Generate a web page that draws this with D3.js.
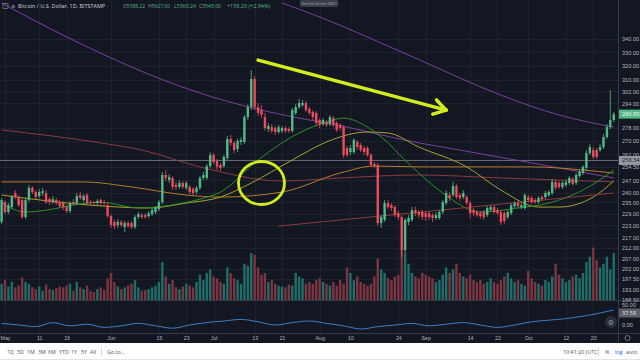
<!DOCTYPE html>
<html><head><meta charset="utf-8">
<script src="https://cdn.jsdelivr.net/npm/d3@7"></script>
<style>
html,body{margin:0;padding:0;background:#131722;}
svg{display:block;font-family:"Open Sans",Roboto,"DejaVu Sans",sans-serif;}
</style></head><body>
<svg id="c" width="640" height="360"></svg>
<script>
// ---------------- DATA ----------------
const firstDay = "2018-04-30";   // daily candles, one per calendar day
const opens = [224.8,235.1,229.9,232.5,240.0,237.8,236.2,227.3,236.2,242.8,
 240.5,238.4,240.0,240.0,236.7,235.1,236.2,235.1,234.6,232.5,
 230.4,235.1,234.6,238.9,236.2,238.9,235.1,235.1,234.6,236.2,
 235.1,233.5,227.8,224.8,223.2,224.8,222.2,224.2,224.2,222.2,
 227.3,228.3,228.3,227.8,228.8,229.9,231.4,235.1,250.0,247.1,
 248.3,244.4,243.3,245.5,242.8,243.3,242.2,240.5,242.8,248.3,
 248.3,255.1,261.5,258.0,255.7,255.1,259.8,271.2,268.8,265.1,
 269.4,269.4,285.0,291.5,310.6,291.5,289.5,285.0,277.4,278.6,
 278.0,275.5,276.2,278.0,277.4,276.2,287.6,291.5,292.8,294.2,
 290.2,288.2,287.6,283.1,280.5,281.8,280.5,284.3,281.2,279.9,
 278.6,265.7,263.3,263.3,269.4,267.5,265.7,265.7,261.5,256.3,
 255.7,224.2,225.8,234.6,233.5,232.5,229.3,227.3,210.9,224.8,
 225.8,230.9,229.9,229.9,229.3,229.3,228.3,226.8,226.8,229.9,
 234.6,238.9,238.9,243.9,238.9,237.8,237.8,234.6,230.9,229.9,
 229.3,229.9,228.3,230.9,232.5,230.9,229.9,229.3,227.3,229.3,
 233.0,234.6,232.5,232.0,237.8,237.3,236.2,235.1,237.8,237.8,
 238.9,240.0,246.1,245.5,243.3,244.4,245.5,247.7,245.5,249.4,
 251.1,254.0,262.7,264.5,264.5,264.5,266.3,272.4,278.6,283.1];
const highs = [237.3,236.2,234.6,238.9,241.6,238.9,237.3,237.3,244.4,243.9,
 241.6,242.2,242.8,241.6,237.8,238.4,237.3,236.2,235.7,233.5,
 235.7,236.7,240.0,240.5,239.4,240.0,236.2,235.7,236.7,237.3,
 236.2,234.6,228.8,225.8,226.3,225.8,225.3,225.3,225.3,228.3,
 229.9,229.3,229.3,230.4,232.0,233.0,236.2,251.7,252.8,250.6,
 249.4,246.1,247.1,246.6,246.6,244.4,243.3,243.9,249.4,251.7,
 256.3,263.3,262.7,259.2,256.9,261.5,273.0,273.6,270.0,271.2,
 272.4,286.3,293.5,317.0,312.7,294.2,292.8,287.6,281.2,280.5,
 279.3,279.9,279.3,279.3,278.6,290.8,293.5,296.9,296.2,295.5,
 291.5,289.5,288.9,284.3,284.3,283.1,286.3,285.6,282.4,281.2,
 279.9,266.9,267.5,271.8,270.6,268.8,266.9,266.9,262.7,257.4,
 256.9,228.3,236.2,236.2,234.6,233.5,230.4,228.3,226.8,228.3,
 232.5,232.5,230.9,230.9,230.4,230.4,229.3,229.9,230.9,236.2,
 241.6,240.5,246.1,245.0,240.0,241.6,238.9,235.7,232.0,230.9,
 230.4,230.9,233.0,233.5,233.5,232.0,230.9,230.4,230.9,234.6,
 235.7,235.7,234.6,240.0,238.9,238.4,237.3,238.4,238.9,241.1,
 241.6,247.7,247.1,246.6,246.6,247.1,249.4,248.9,251.1,252.8,
 255.7,264.5,268.1,266.3,265.7,268.1,274.3,280.5,302.9,288.2];
const lows = [223.7,228.8,228.8,231.4,236.7,232.5,226.3,226.3,235.1,239.4,
 236.7,237.3,238.4,234.1,233.5,234.1,233.5,232.0,230.9,229.3,
 229.3,233.5,233.5,236.2,235.1,233.5,233.5,233.5,233.5,233.5,
 233.0,226.8,221.7,221.2,221.7,222.2,219.7,221.7,221.2,221.2,
 226.3,226.3,226.3,226.8,227.8,228.8,230.4,234.1,246.6,245.5,
 241.6,241.6,242.2,242.2,241.6,239.4,238.4,239.4,241.6,247.1,
 247.1,254.0,256.3,252.8,252.3,254.0,258.6,266.9,262.7,263.3,
 267.5,268.1,283.1,289.5,289.5,285.6,284.3,276.2,275.5,274.9,
 273.6,274.3,274.9,274.9,274.9,274.9,286.3,290.2,291.5,288.2,
 286.3,283.1,279.3,278.0,279.3,278.6,279.3,278.6,275.5,276.2,
 259.8,260.4,261.5,262.1,264.5,263.3,261.5,260.4,254.6,254.0,
 222.7,221.7,224.8,231.4,230.4,227.3,225.8,207.1,209.5,223.2,
 224.8,227.8,226.8,225.8,225.3,225.8,224.8,225.8,225.8,228.8,
 233.5,235.7,237.8,236.7,235.7,236.7,233.5,226.8,227.8,227.3,
 226.3,225.8,227.3,229.9,228.8,228.3,223.2,223.7,226.3,228.3,
 232.0,232.0,231.4,230.9,235.1,234.1,234.1,234.1,235.7,236.7,
 237.8,238.9,241.6,242.2,242.2,243.3,244.4,243.9,244.4,248.3,
 250.0,252.8,261.5,259.2,259.2,263.3,265.1,271.2,277.4,281.8];
const closes = [236.2,229.9,233.5,237.8,237.8,233.5,227.3,236.2,242.8,240.5,
 237.8,240.5,241.1,235.1,235.1,236.7,234.6,233.0,232.5,230.4,
 234.6,234.6,238.4,237.3,238.4,234.6,234.6,234.6,235.7,234.6,
 234.6,227.8,223.2,222.7,224.8,223.2,224.2,222.7,222.2,227.3,
 228.8,227.3,227.3,229.3,230.9,232.0,235.1,250.0,248.3,248.9,
 243.3,243.3,245.5,243.3,245.5,240.5,240.0,242.8,248.3,250.0,
 255.1,261.5,257.4,254.6,254.0,260.4,271.2,268.8,264.5,270.0,
 270.6,285.0,291.5,310.6,291.5,287.6,286.3,278.0,279.3,276.2,
 275.5,278.6,278.0,276.2,276.2,289.5,291.5,294.2,294.2,289.5,
 287.6,285.0,281.2,279.9,283.1,279.9,285.0,279.9,276.8,278.0,
 261.5,261.5,265.7,270.6,266.3,264.5,263.3,261.5,255.7,255.1,
 224.2,227.3,234.6,232.5,232.0,228.3,227.3,210.9,225.8,226.8,
 230.9,229.3,228.3,227.3,227.3,227.3,226.8,228.3,229.9,235.1,
 240.0,237.3,243.9,237.8,237.3,240.0,234.6,229.3,229.3,228.3,
 227.8,227.3,232.0,232.5,229.9,229.3,224.8,225.3,229.9,233.5,
 234.6,233.0,233.5,238.9,236.2,235.1,235.1,237.3,236.7,240.0,
 240.5,246.1,242.8,243.3,245.5,246.1,248.3,245.0,250.0,251.7,
 254.6,262.7,266.3,260.4,260.4,266.3,272.4,278.6,283.1,286.9];
const volumes = [18,22,15,20,14,16,25,20,18,14,
 12,15,10,17,12,11,13,15,14,16,
 18,10,20,14,12,16,10,9,12,14,
 11,24,30,20,15,12,14,16,18,22,
 14,10,11,12,14,16,20,42,26,18,
 22,14,12,15,18,16,14,20,28,22,
 30,34,26,24,20,18,36,30,24,22,
 18,40,38,52,50,36,28,30,20,22,
 18,16,15,14,17,16,30,26,24,18,
 20,18,22,24,20,18,16,20,16,22,
 18,36,30,22,26,20,18,16,18,26,
 46,34,30,24,22,26,28,55,52,40,
 30,26,24,30,28,26,24,20,22,28,
 36,30,34,40,30,26,24,28,22,20,
 22,18,20,24,20,18,22,26,30,24,
 20,22,18,16,32,24,20,18,16,22,
 20,26,40,28,24,20,22,26,28,24,
 30,42,48,58,44,36,40,48,34,52];

// moving-average lines: [day offset from May 1, value]
const maGreen  = [[-1,234.6],[6,229.9],[28,235.1],[39,232.0],[52,234.6],[57,236.7],[63,240.5],[74,258.6],[86,274.9],[94,281.8],[99,284.3],[106,278.6],[112,268.8],[116,260.4],[121,251.1],[128,240.0],[139,229.9],[150,232.0],[159,234.6],[169,241.6],[178,252.8]];
const maYellow = [[-1,238.9],[25,233.5],[42,232.0],[53,234.6],[63,237.8],[72,245.5],[84,258.6],[94,269.4],[106,275.5],[112,274.9],[121,266.3],[135,254.6],[145,241.6],[156,232.5],[162,232.5],[172,237.8],[178,246.6]];
const maOrange = [[-1,246.1],[23,246.1],[37,243.3],[53,238.9],[63,237.8],[81,240.5],[98,251.1],[108,255.1],[121,254.6],[154,254.6],[169,252.8],[178,251.1]];
const maMaroon = [[-1,276.8],[28,268.8],[40,264.5],[57,254.6],[81,246.6],[98,248.3],[121,250.0],[145,248.3],[178,246.1]];
const maPurpleA = [[-1,368.9],[14,347.0],[57,300.9],[86,284.3],[94,281.2],[121,268.8],[133,264.5],[154,256.9],[178,248.3]];
const maPurpleB = [[81,368.9],[92,357.4],[118,327.9],[145,299.5],[162,286.3],[178,278.6]];
const trendRed  = [[80,222.7],[178,240.0]];
const hLine = 258.34;
const arrowPts = [[74,324.2],[129,289.5]];
const circleAt = [75.4,245.5];

// oscillator (lower pane)
const oscDays = [-1,4,9,14,19,24,29,34,39,44,49,54,59,64,69,74,79,84,89,94,99,104,109,114,119,124,129,134,139,144,149,154,159,164,169,174,178];
const oscVals = [4,0,-4,6,-2,2,-6,-2,4,-2,-8,0,6,10,14,8,0,6,10,4,-2,-10,-4,0,4,-2,2,6,0,-6,0,8,12,16,22,30,37.58];

const priceTicks = [340,330,320,310,302,294,278,270,262,254.5,247,240,235,229,223,217,212,207,202,197.5,193,188.5];
const timeTicks = [["2018-05-01","May"],["2018-05-11","11"],["2018-05-19","19"],["2018-06-01","Jun"],["2018-06-15","15"],["2018-06-23","23"],["2018-07-01","Jul"],["2018-07-13","13"],["2018-07-21","21"],["2018-08-01","Aug"],["2018-08-10","10"],["2018-08-24","24"],["2018-09-01","Sep"],["2018-09-14","14"],["2018-09-22","22"],["2018-10-01","Oct"],["2018-10-12","12"],["2018-10-20","20"]];
const lastPrice = 286.90, oscLast = 37.58;

// ---------------- DRAW ----------------
const W = 640, H = 360, PR = 618, PB = 300, OT = 301, OB = 333;
const svg = d3.select("#c");
const parse = d3.utcParse("%Y-%m-%d");
const day0 = parse(firstDay);
const may1 = parse("2018-05-01");
const dayDate = d => d3.utcDay.offset(may1, d);
const data = opens.map((o,i)=>({date:d3.utcDay.offset(day0,i),o,h:highs[i],l:lows[i],c:closes[i],v:volumes[i]}));

const x = d3.scaleUtc().domain([may1, d3.utcDay.offset(may1,179)]).range([5, 5+3.42*179]);
const y = d3.scaleLog().domain([371.4,188.4]).range([0,PB]);
const yv = d3.scaleLinear().domain([0,62]).range([PB, PB-56]);
const yo = d3.scaleLinear().domain([0,50]).range([325,305]);

svg.append("rect").attr("width",W).attr("height",H).attr("fill","#131722");
svg.append("defs").append("clipPath").attr("id","cp").append("rect").attr("width",PR).attr("height",PB);

// grid
const grid = svg.append("g").attr("stroke","#1e222d").attr("stroke-width",1);
grid.selectAll(".vg").data(timeTicks).join("line")
  .attr("x1",d=>Math.round(x(parse(d[0])))+0.5).attr("x2",d=>Math.round(x(parse(d[0])))+0.5)
  .attr("y1",0).attr("y2",OB);
grid.selectAll(".hg").data(priceTicks).join("line")
  .attr("x1",0).attr("x2",PR).attr("y1",d=>Math.round(y(d))+0.5).attr("y2",d=>Math.round(y(d))+0.5);

const plot = svg.append("g").attr("clip-path","url(#cp)");

// volume
plot.append("g").selectAll("rect").data(data).join("rect")
  .attr("x",d=>x(d.date)-1.2).attr("width",2.4)
  .attr("y",d=>yv(d.v)).attr("height",d=>PB-yv(d.v))
  .attr("fill",d=>d.c>=d.o?"#1f6e69":"#7d3540");

// horizontal line
plot.append("line").attr("x1",0).attr("x2",PR).attr("y1",y(hLine)).attr("y2",y(hLine))
  .attr("stroke","#6a6d78").attr("stroke-width",1);

// MAs
const line = d3.line().x(d=>x(dayDate(d[0]))).y(d=>y(d[1])).curve(d3.curveMonotoneX);
const mas = [[maPurpleA,"#7b3fa0"],[maPurpleB,"#7b3fa0"],[maMaroon,"#8c3a3f"],[maOrange,"#b57a2a"],[maYellow,"#a8a32c"],[maGreen,"#2a8f2a"]];
mas.forEach(([pts,col])=>plot.append("path").attr("d",line(pts)).attr("fill","none").attr("stroke",col).attr("stroke-width",1));
plot.append("path").attr("d",d3.line().x(d=>x(dayDate(d[0]))).y(d=>y(d[1]))(trendRed))
  .attr("fill","none").attr("stroke","#8c3a3f").attr("stroke-width",1);

// candles
const cg = plot.append("g");
cg.selectAll("line").data(data).join("line")
  .attr("x1",d=>x(d.date)).attr("x2",d=>x(d.date)).attr("y1",d=>y(d.h)).attr("y2",d=>y(d.l))
  .attr("stroke",d=>d.c>=d.o?"#53b987":"#eb4d5c").attr("stroke-width",0.8);
cg.selectAll("rect").data(data).join("rect")
  .attr("x",d=>x(d.date)-1.2).attr("width",2.4)
  .attr("y",d=>y(Math.max(d.o,d.c))).attr("height",d=>Math.max(0.8,Math.abs(y(d.o)-y(d.c))))
  .attr("fill",d=>d.c>=d.o?"#53b987":"#eb4d5c");

// annotations
const ann = "#d2ec1e";
const ax0 = x(dayDate(arrowPts[0][0])), ay0 = y(arrowPts[0][1]);
const ax1 = x(dayDate(arrowPts[1][0])), ay1 = y(arrowPts[1][1]);
plot.append("line").attr("x1",ax0).attr("y1",ay0).attr("x2",ax1).attr("y2",ay1)
  .attr("stroke",ann).attr("stroke-width",3.5).attr("stroke-linecap","round");
const ang = Math.atan2(ay1-ay0, ax1-ax0);
const hl = 14;
[ang+0.55, ang-0.55].forEach(a=>plot.append("line").attr("x1",ax1).attr("y1",ay1)
  .attr("x2",ax1-hl*Math.cos(a)).attr("y2",ay1-hl*Math.sin(a))
  .attr("stroke",ann).attr("stroke-width",3.5).attr("stroke-linecap","round"));
plot.append("ellipse").attr("cx",x(dayDate(circleAt[0]))).attr("cy",y(circleAt[1]))
  .attr("rx",23).attr("ry",21.5).attr("fill","none").attr("stroke",ann).attr("stroke-width",2.8);

// pane separators
svg.append("line").attr("x1",0).attr("x2",W).attr("y1",PB+0.5).attr("y2",PB+0.5).attr("stroke","#363a45");
svg.append("line").attr("x1",0).attr("x2",W).attr("y1",OB+0.5).attr("y2",OB+0.5).attr("stroke","#363a45");
svg.append("line").attr("x1",PR+0.5).attr("x2",PR+0.5).attr("y1",0).attr("y2",343).attr("stroke","#363a45");

// oscillator
svg.append("path").attr("d",d3.line().x((d,i)=>x(dayDate(d))).y((d,i)=>yo(oscVals[i])).curve(d3.curveMonotoneX)(oscDays))
  .attr("fill","none").attr("stroke","#3b7fc4").attr("stroke-width",1);

// price axis
const pa = svg.append("g").attr("transform",`translate(${PR},0)`)
  .call(d3.axisRight(y).tickValues(priceTicks).tickSize(0).tickPadding(4).tickFormat(d3.format(".2f")));
pa.select(".domain").remove();
pa.selectAll("text").attr("fill","#b2b5be").attr("font-size",5.6);
const oa = svg.append("g").attr("transform",`translate(${PR},0)`)
  .call(d3.axisRight(yo).tickValues([0,50]).tickSize(0).tickPadding(4).tickFormat(d3.format(".2f")));
oa.select(".domain").remove();
oa.selectAll("text").attr("fill","#b2b5be").attr("font-size",5.6);

function tag(v, yy, fill, tcol){
  const g = svg.append("g");
  g.append("rect").attr("x",PR+1).attr("y",yy-4.5).attr("width",21).attr("height",9).attr("fill",fill);
  g.append("text").attr("x",PR+4).attr("y",yy+2).attr("font-size",5.6).attr("fill",tcol).text(d3.format(".2f")(v));
}
tag(lastPrice, y(lastPrice), "#53b987", "#ffffff");
tag(hLine, y(hLine), "#9598a1", "#131722");
tag(oscLast, yo(oscLast)+3, "#5d606b", "#e0e3eb");

// time axis
const ta = svg.append("g").attr("transform",`translate(0,${OB})`)
  .call(d3.axisBottom(x).tickValues(timeTicks.map(d=>parse(d[0]))).tickSize(0).tickPadding(3)
    .tickFormat((d,i)=>timeTicks[i][1]));
ta.select(".domain").remove();
ta.selectAll("text").attr("fill","#b2b5be").attr("font-size",5.2);

// icons
svg.append("circle").attr("cx",611).attr("cy",322).attr("r",6).attr("fill","#2a2e39");
svg.append("text").attr("x",611).attr("y",324.5).attr("text-anchor","middle").attr("font-size",7).attr("fill","#9598a1").text("⚙");
svg.append("circle").attr("cx",627.5).attr("cy",338).attr("r",2.5).attr("fill","none").attr("stroke","#9598a1").attr("stroke-width",0.7);

// header
const hd = svg.append("g").attr("font-size",5.4);
hd.append("rect").attr("x",3).attr("y",3.5).attr("width",5).attr("height",5).attr("fill","none").attr("stroke","#9598a1").attr("stroke-width",0.6);
hd.append("text").attr("x",11).attr("y",8.3).attr("fill","#9598a1").text("≡");
hd.append("text").attr("x",18).attr("y",8.3).attr("fill","#d1d4dc").attr("textLength",90).attr("lengthAdjust","spacingAndGlyphs").text("Bitcoin / U.S. Dollar, 1D, BITSTAMP ·");
[["O","5388.22",123],["H","5627.00",148],["L","5363.24",174],["C","5545.00",199]].forEach(([k,v,xx])=>{
  const t = hd.append("text").attr("x",xx).attr("y",8.3).attr("textLength",22).attr("lengthAdjust","spacingAndGlyphs");
  t.append("tspan").attr("fill","#9598a1").text(k);
  t.append("tspan").attr("fill","#53b987").text(v);
});
hd.append("text").attr("x",227).attr("y",8.3).attr("fill","#53b987").attr("textLength",43).attr("lengthAdjust","spacingAndGlyphs").text("+158.20 (+2.94%)");
svg.append("rect").attr("x",300).attr("y",0).attr("width",38).attr("height",7).attr("rx",1).attr("fill","#3a3e4a");
svg.append("text").attr("x",319).attr("y",5).attr("text-anchor","middle").attr("font-size",3.6).attr("fill","#b2b5be").text("Exit Full Screen (ESC)");

// bottom toolbar
svg.append("rect").attr("x",0).attr("y",343).attr("width",W).attr("height",17).attr("fill","#ffffff");
svg.append("line").attr("x1",0).attr("x2",W).attr("y1",359.5).attr("y2",359.5).attr("stroke","#e0e3eb");
const tb = svg.append("g").attr("font-size",5.4).attr("fill","#50535e");
[["1D",7],["5D",17],["1M",27],["3M",38],["6M",48],["YTD",59],["1Y",71],["5Y",81],["All",90],["Go to...",107]].forEach(([t,xx])=>tb.append("text").attr("x",xx).attr("y",354).text(t));
svg.append("line").attr("x1",101.5).attr("x2",101.5).attr("y1",347).attr("y2",356).attr("stroke","#d6d8de");
tb.append("text").attr("x",563).attr("y",354).text("10:41:20 (UTC)");
svg.append("line").attr("x1",598.5).attr("x2",598.5).attr("y1",347).attr("y2",356).attr("stroke","#d6d8de");
tb.append("text").attr("x",605).attr("y",354).text("%");
tb.append("text").attr("x",615).attr("y",354).attr("fill","#2962ff").text("log");
tb.append("text").attr("x",626).attr("y",354).text("auto");
</script>
</body></html>
